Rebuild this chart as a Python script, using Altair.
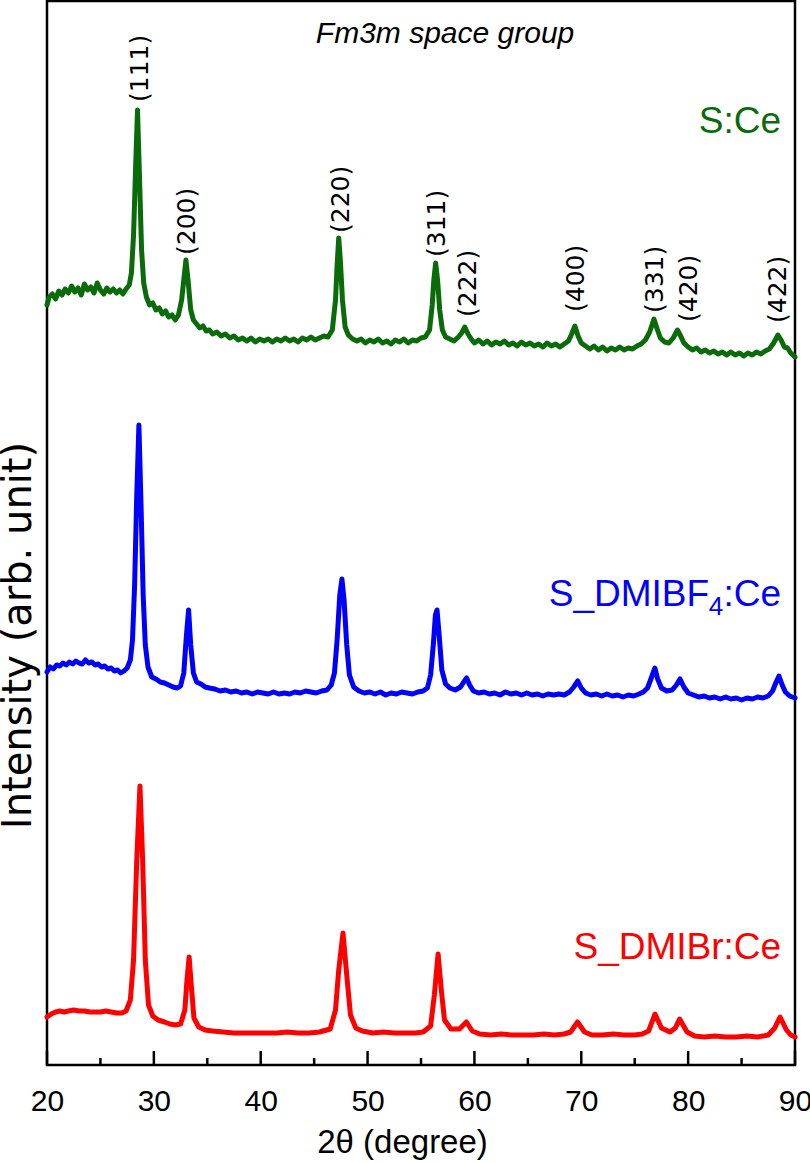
import altair as alt
import pandas as pd

FONT = "Liberation Sans, Arial, Helvetica, sans-serif"
WIDE = "DejaVu Sans, Verdana, Liberation Sans, sans-serif"

# Sample names and trace colours
samples = ["S:Ce", "S_DMIBF4:Ce", "S_DMIBr:Ce"]
colors = ["#0a6b0a", "#0000ff", "#ff0000"]

# XRD pattern of S:Ce (offset for stacking)
tt_sce = [20.0, 20.2, 20.5, 20.8, 21.1, 21.4, 21.7, 22.0, 22.3, 22.6, 22.9, 23.2, 23.5, 23.8, 24.1,
          24.4, 24.7, 25.0, 25.3, 25.6, 25.9, 26.2, 26.5, 26.8, 27.1, 27.4, 27.7, 27.9, 28.1, 28.3,
          28.47, 28.65, 28.85, 29.05, 29.3, 29.6, 29.9, 30.2, 30.5, 30.8, 31.1, 31.4, 31.7, 32.0,
          32.3, 32.6, 32.8, 33.0, 33.2, 33.45, 33.7, 34.0, 34.3, 34.6, 34.9, 35.2, 35.5, 35.9, 36.3,
          36.7, 37.1, 37.5, 37.9, 38.3, 38.7, 39.1, 39.5, 39.9, 40.3, 40.7, 41.1, 41.5, 41.9, 42.3,
          42.7, 43.1, 43.5, 43.9, 44.3, 44.7, 45.1, 45.5, 45.9, 46.3, 46.7, 47.0, 47.15, 47.3, 47.45,
          47.65, 47.9, 48.2, 48.6, 49.0, 49.4, 49.8, 50.2, 50.6, 51.0, 51.4, 51.8, 52.2, 52.6, 53.0,
          53.4, 53.8, 54.2, 54.6, 55.0, 55.4, 55.8, 56.05, 56.2, 56.37, 56.55, 56.75, 57.0, 57.3,
          57.7, 58.1, 58.5, 58.8, 59.1, 59.4, 59.7, 60.0, 60.4, 60.8, 61.2, 61.6, 62.0, 62.4, 62.8,
          63.2, 63.6, 64.0, 64.4, 64.8, 65.2, 65.6, 66.0, 66.4, 66.8, 67.2, 67.6, 68.0, 68.4, 68.8,
          69.1, 69.4, 69.7, 70.0, 70.4, 70.8, 71.2, 71.6, 72.0, 72.4, 72.8, 73.2, 73.6, 74.0, 74.4,
          74.8, 75.2, 75.6, 76.0, 76.4, 76.8, 77.1, 77.4, 77.8, 78.2, 78.6, 79.0, 79.3, 79.6, 80.0,
          80.4, 80.8, 81.2, 81.6, 82.0, 82.4, 82.8, 83.2, 83.6, 84.0, 84.4, 84.8, 85.2, 85.6, 86.0,
          86.4, 86.8, 87.2, 87.6, 88.0, 88.4, 88.7, 89.0, 89.3, 89.6, 90.0]
int_sce = [760, 768, 771, 766, 774, 770, 776, 772, 779, 773, 777, 770, 781, 775, 778,
           772, 782, 775, 771, 777, 773, 776, 772, 775, 771, 776, 780, 792, 830, 900,
           955, 890, 815, 782, 768, 760, 762, 755, 757, 751, 754, 748, 750, 745,
           750, 765, 785, 805, 785, 755, 745, 741, 737, 739, 734, 735, 731, 733, 729,
           731, 727, 729, 725, 727, 724, 727, 723, 726, 724, 726, 723, 726, 724, 727,
           724, 726, 723, 727, 725, 728, 725, 727, 729, 728, 735, 765, 800, 827, 805,
           765, 738, 730, 726, 724, 726, 722, 725, 723, 726, 722, 724, 721, 725, 723,
           726, 722, 725, 724, 727, 728, 735, 760, 785, 802, 785, 755, 735, 728,
           726, 724, 728, 732, 738, 731, 726, 722, 725, 721, 724, 720, 723, 721, 724,
           720, 722, 719, 723, 720, 722, 719, 721, 718, 722, 719, 721, 718, 721, 724,
           731, 739, 729, 722, 719, 716, 719, 715, 718, 714, 717, 715, 718, 715, 717,
           716, 719, 721, 725, 733, 746, 736, 727, 723, 722, 727, 735, 729, 722, 718,
           715, 717, 713, 715, 712, 714, 711, 713, 710, 713, 710, 712, 709, 712, 710,
           713, 711, 714, 716, 722, 730, 725, 718, 717, 712, 708]

# XRD pattern of S_DMIBF4:Ce (offset for stacking)
tt_bf4 = [20.0, 20.3, 20.6, 20.9, 21.2, 21.5, 21.8, 22.1, 22.4, 22.7, 23.0, 23.3, 23.6, 23.9, 24.2,
          24.5, 24.8, 25.1, 25.4, 25.7, 26.0, 26.3, 26.6, 26.9, 27.2, 27.5, 27.8, 28.0, 28.2, 28.4,
          28.6, 28.8, 29.0, 29.2, 29.45, 29.8, 30.2, 30.6, 31.0, 31.4, 31.8, 32.2, 32.5, 32.8,
          33.05, 33.25, 33.45, 33.7, 34.0, 34.4, 34.8, 35.2, 35.7, 36.2, 36.7, 37.2, 37.7, 38.2,
          38.7, 39.2, 39.7, 40.2, 40.7, 41.2, 41.7, 42.2, 42.7, 43.2, 43.7, 44.2, 44.7, 45.2, 45.7,
          46.2, 46.6, 46.9, 47.15, 47.4, 47.6, 47.8, 48.05, 48.3, 48.7, 49.2, 49.7, 50.2, 50.7,
          51.2, 51.7, 52.2, 52.7, 53.2, 53.7, 54.2, 54.7, 55.2, 55.6, 55.9, 56.15, 56.35, 56.5,
          56.7, 56.95, 57.3, 57.7, 58.2, 58.7, 59.0, 59.27, 59.55, 59.9, 60.4, 60.9, 61.4, 61.9,
          62.4, 62.9, 63.4, 63.9, 64.4, 64.9, 65.4, 65.9, 66.4, 66.9, 67.4, 67.9, 68.4, 68.9, 69.3,
          69.67, 70.0, 70.4, 70.9, 71.4, 71.9, 72.4, 72.9, 73.4, 73.9, 74.4, 74.9, 75.4, 75.8, 76.2,
          76.55, 76.88, 77.15, 77.5, 78.0, 78.5, 78.9, 79.24, 79.6, 80.0, 80.5, 81.0, 81.5, 82.0,
          82.5, 83.0, 83.5, 84.0, 84.5, 85.0, 85.5, 86.0, 86.5, 87.0, 87.5, 87.9, 88.2, 88.5, 88.8,
          89.1, 89.5, 90.0]
int_bf4 = [393, 398, 396, 400, 399, 402, 400, 403, 401, 404, 402, 401, 405, 402, 403,
           400, 401, 398, 399, 396, 397, 394, 395, 392, 394, 397, 405, 425, 480, 570,
           640, 560, 470, 420, 398, 388, 386, 383, 382, 380, 378, 377, 379, 392,
           430, 455, 420, 392, 383, 381, 378, 377, 376, 374, 375, 373, 374, 372,
           373, 371, 373, 372, 371, 373, 371, 372, 371, 373, 372, 374, 373, 372, 374,
           375, 380, 392, 425, 470, 486, 465, 420, 390, 378, 374, 372, 373, 371,
           373, 370, 372, 371, 373, 372, 371, 373, 374, 377, 390, 420, 450, 455,
           430, 395, 381, 377, 375, 378, 383, 387, 380, 374, 372, 373, 371, 372,
           370, 373, 371, 372, 370, 372, 370, 371, 369, 371, 370, 371, 370, 373, 378,
           384, 377, 372, 370, 371, 369, 371, 369, 370, 368, 370, 369, 371, 373, 377,
           387, 397, 386, 377, 374, 375, 380, 386, 378, 372, 370, 368, 369, 367,
           368, 366, 368, 366, 367, 365, 367, 366, 368, 367, 369, 374, 382, 389, 380,
           373, 369, 367]

# XRD pattern of S_DMIBr:Ce
tt_br = [20.0, 20.4, 20.8, 21.2, 21.6, 22.0, 22.5, 23.0, 23.5, 24.0, 24.5, 25.0, 25.5, 26.0, 26.5,
         27.0, 27.4, 27.8, 28.1, 28.4, 28.7, 28.95, 29.2, 29.5, 29.9, 30.4, 31.0, 31.5, 32.0, 32.5,
         32.9, 33.1, 33.3, 33.5, 33.75, 34.2, 34.8, 35.5, 36.5, 37.5, 38.5, 39.5, 40.5, 41.5, 42.5,
         43.5, 44.5, 45.5, 46.5, 47.0, 47.3, 47.7, 48.05, 48.4, 48.9, 49.5, 50.5, 51.5, 52.5, 53.5,
         54.5, 55.2, 55.9, 56.25, 56.6, 56.9, 57.2, 57.8, 58.6, 59.25, 59.8, 60.5, 61.5, 62.5, 63.5,
         64.5, 65.5, 66.5, 67.5, 68.4, 69.0, 69.65, 70.3, 71.0, 72.0, 73.0, 74.0, 75.0, 75.7, 76.3,
         76.9, 77.5, 78.3, 78.8, 79.2, 79.9, 80.6, 81.5, 82.5, 83.5, 84.5, 85.5, 86.5, 87.5, 88.1,
         88.6, 89.2, 89.6, 90.0]
int_br = [48, 51, 53, 54, 53, 54, 55, 54, 54, 53, 53, 53, 54, 53, 52,
          52, 54, 65, 105, 205, 279, 205, 105, 60, 49, 45, 43, 41, 40, 41,
          55, 85, 108, 80, 47, 38, 35, 34, 33, 32, 32, 32, 32, 32, 33,
          32, 32, 33, 36, 55, 95, 132, 90, 50, 37, 34, 32, 33, 32, 32,
          32, 33, 39, 70, 111, 75, 45, 36, 36, 43, 34, 31, 30, 31, 30,
          30, 30, 31, 30, 31, 33, 43, 33, 30, 30, 31, 30, 30, 31, 34,
          51, 37, 33, 37, 46, 33, 29, 28, 29, 28, 28, 29, 28, 30, 37,
          48, 35, 30, 28]

# Miller indices of the Fm3m reflections and where their labels sit
hkl_text = ["(111)", "(200)", "(220)", "(311)", "(222)", "(400)", "(331)", "(420)", "(422)"]
hkl_tt = [28.66, 33.1, 47.5, 56.47, 59.37, 69.52, 76.93, 80.08, 88.4]
hkl_int = [963, 810, 832, 808, 748, 753, 752, 743, 742]

# x-axis ticks
major_ticks = [20, 30, 40, 50, 60, 70, 80, 90]
minor_ticks = [25, 35, 45, 55, 65, 75, 85]

W, H = 748, 1064

rows = []
for name, tt, yy in [(samples[0], tt_sce, int_sce), (samples[1], tt_bf4, int_bf4), (samples[2], tt_br, int_br)]:
    for a, b in zip(tt, yy):
        rows.append({"two_theta": a, "intensity": b, "sample": name})
patterns = pd.DataFrame(rows)

x_scale = alt.Scale(domain=[20, 90], nice=False, zero=False)
y_scale = alt.Scale(domain=[0, H], nice=False, zero=False)
color_scale = alt.Scale(domain=samples, range=colors)

x_enc = alt.X(
    "two_theta:Q", scale=x_scale,
    axis=alt.Axis(
        title="2θ (degree)", values=major_ticks, format="d", grid=False, ticks=False,
        domain=False, labelFont=FONT, labelFontSize=30, labelPadding=21, labelColor="black",
        labelFlush=False, titleFont=FONT, titleFontSize=33, titleFontWeight="normal",
        titleColor="black", titleX=355, titleY=87, titleAlign="center",
        titleBaseline="alphabetic",
    ),
)
y_enc = alt.Y(
    "intensity:Q", scale=y_scale,
    axis=alt.Axis(
        title="Intensity (arb. unit)", labels=False, ticks=False, domain=False, grid=False,
        titleFont=WIDE, titleFontSize=40, titleFontWeight="normal", titleColor="black",
        titleAngle=270, titleX=-29, titleY=634, titleAlign="center", titleBaseline="middle",
    ),
)

lines = alt.Chart(patterns).mark_line(
    strokeWidth=5, strokeJoin="round", strokeCap="round"
).encode(
    x=x_enc, y=y_enc,
    color=alt.Color("sample:N", scale=color_scale, legend=None),
)

# Inward-pointing ticks on the bottom axis
major = alt.Chart(pd.DataFrame({"two_theta": major_ticks})).mark_rule(
    color="black", strokeWidth=2.5
).encode(x=alt.X("two_theta:Q", scale=x_scale), y=alt.value(H), y2=alt.value(H - 14))
minor = alt.Chart(pd.DataFrame({"two_theta": minor_ticks})).mark_rule(
    color="black", strokeWidth=2.5
).encode(x=alt.X("two_theta:Q", scale=x_scale), y=alt.value(H), y2=alt.value(H - 7))

hkl = alt.Chart(pd.DataFrame({"two_theta": hkl_tt, "intensity": hkl_int, "label": hkl_text})).mark_text(
    angle=270, align="left", baseline="middle", font=WIDE, fontSize=25, color="black"
).encode(x=alt.X("two_theta:Q", scale=x_scale), y=alt.Y("intensity:Q", scale=y_scale), text="label:N")

# Space group annotation
space_group = alt.Chart(pd.DataFrame({"two_theta": [57.25], "intensity": [1022], "label": ["Fm3m space group"]})).mark_text(
    align="center", baseline="alphabetic", font=FONT, fontSize=30, fontStyle="italic", color="black"
).encode(x=alt.X("two_theta:Q", scale=x_scale), y=alt.Y("intensity:Q", scale=y_scale), text="label:N")

# Sample names beside each pattern
label_x = 88.7
name_base = alt.Chart(pd.DataFrame({
    "two_theta": [label_x, label_x, label_x],
    "intensity": [932, 459, 106],
    "label": ["S:Ce", ":Ce", "S_DMIBr:Ce"],
    "sample": samples,
}))
names = name_base.mark_text(align="right", baseline="alphabetic", font=FONT, fontSize=37).encode(
    x=alt.X("two_theta:Q", scale=x_scale), y=alt.Y("intensity:Q", scale=y_scale), text="label:N",
    color=alt.Color("sample:N", scale=color_scale, legend=None),
)
bf4_df = pd.DataFrame({"two_theta": [label_x], "intensity": [459], "sample": [samples[1]]})
bf4_main = alt.Chart(bf4_df.assign(label="S_DMIBF")).mark_text(
    align="right", baseline="alphabetic", font=FONT, fontSize=37, dx=-72
).encode(
    x=alt.X("two_theta:Q", scale=x_scale), y=alt.Y("intensity:Q", scale=y_scale), text="label:N",
    color=alt.Color("sample:N", scale=color_scale, legend=None),
)
bf4_sub = alt.Chart(bf4_df.assign(label="4")).mark_text(
    align="right", baseline="alphabetic", font=FONT, fontSize=26, dx=-58, dy=9
).encode(
    x=alt.X("two_theta:Q", scale=x_scale), y=alt.Y("intensity:Q", scale=y_scale), text="label:N",
    color=alt.Color("sample:N", scale=color_scale, legend=None),
)

chart = alt.layer(
    lines, major, minor, hkl, space_group, names, bf4_main, bf4_sub
).properties(
    width=W, height=H,
    autosize=alt.AutoSizeParams(type="none"),
    padding={"left": 47, "top": 1, "right": 15, "bottom": 98},
    background="white",
).configure_view(stroke="black", strokeWidth=2.5)

chart.save("out.html", embed_options={"renderer": "svg", "actions": False})
